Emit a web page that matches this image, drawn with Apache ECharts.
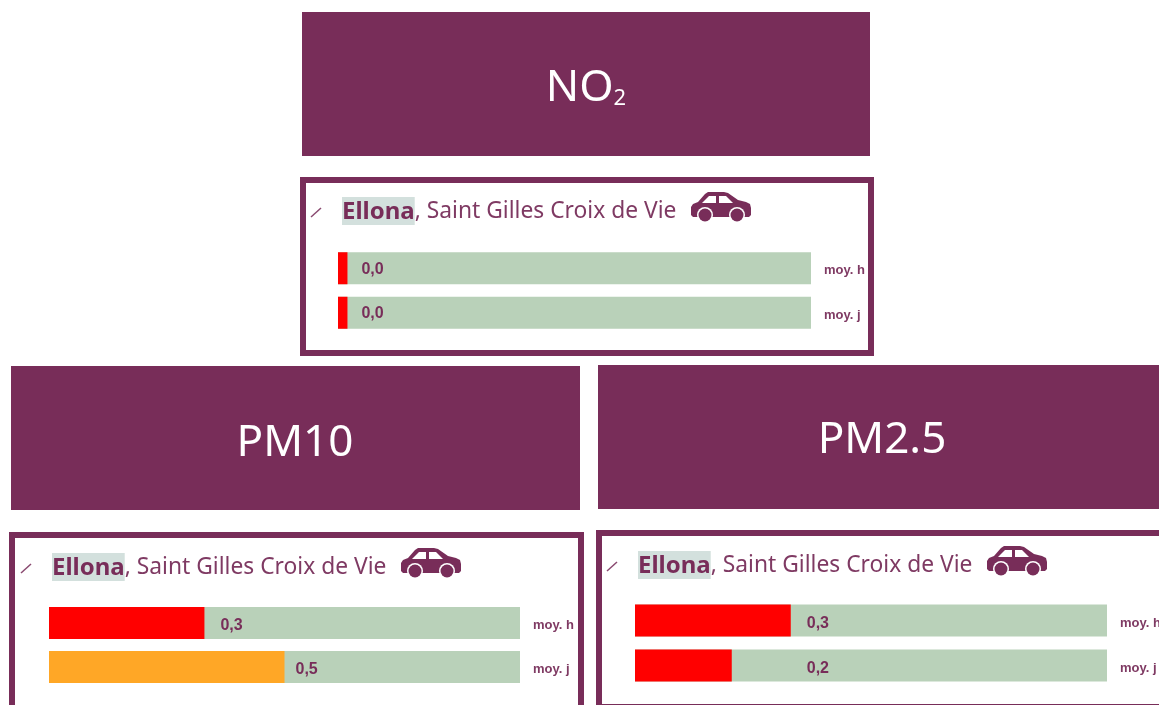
<!DOCTYPE html>
<html>
<head>
<meta charset="utf-8">
<style>
html,body{margin:0;padding:0;background:#fff;overflow:hidden}
#main{width:1159px;height:705px}
</style>
<script src="https://cdn.jsdelivr.net/npm/echarts@6/dist/echarts.min.js"></script>
</head>
<body>
<div id="main"></div>
<script>
// valeurs
var rowLabels = ['moy. h', 'moy. j'];
var no2Values = [0.02, 0.02];
var pm10Values = [0.33, 0.5];
var pm25Values = [0.33, 0.205];
var stationBold = 'Ellona';
var stationRest = ', Saint Gilles Croix de Vie';

var PURPLE = '#782d59';
var GREEN = '#b9d1b9';
var FONT = '"Noto Sans", sans-serif';

// placement des 3 blocs
var panels = [
	{ values: no2Values, head: [302, 12, 568, 144], frame: [300, 177, 574, 179], titleX: 342, titleY: 211, grid: [338, 246, 473, 89], dist: [14, 14], shift: 1 },
	{ values: pm10Values, head: [11, 366, 569, 144], frame: [9, 532, 575, 200], titleX: 52, titleY: 567, grid: [49, 601, 471, 88], dist: [16, 11], shift: 3 },
	{ values: pm25Values, head: [598, 365, 600, 144], frame: [596, 530, 600, 180], titleX: 638, titleY: 565, grid: [635, 598, 472, 90], dist: [16, 75], shift: 3 }
];

function car(x, y) {
	return {
		type: 'group', x: x, y: y, silent: true,
		children: [
			{ type: 'polygon', shape: { points: [[0, 23], [0, 15], [2, 12], [7, 10], [14, 2], [17, 0], [33, 0], [37, 1], [47, 8], [55, 10], [59, 12], [60, 16], [60, 23], [58, 25], [2, 25]] }, style: { fill: PURPLE } },
			{ type: 'polygon', shape: { points: [[11, 11], [18, 4], [25, 4], [25, 11]] }, style: { fill: '#fff' } },
			{ type: 'polygon', shape: { points: [[28, 4], [35, 4], [42, 11], [28, 11]] }, style: { fill: '#fff' } },
			{ type: 'circle', shape: { cx: 14, cy: 23, r: 8 }, style: { fill: '#fff' } },
			{ type: 'circle', shape: { cx: 46, cy: 23, r: 8 }, style: { fill: '#fff' } },
			{ type: 'circle', shape: { cx: 14, cy: 23, r: 6.5 }, style: { fill: PURPLE } },
			{ type: 'circle', shape: { cx: 46, cy: 23, r: 6.5 }, style: { fill: PURPLE } }
		]
	};
}

var graphics = [];
var grids = [], xAxes = [], yAxes = [], series = [];
var headTexts = ['{a|NO}{b|2}', '{a|PM10}', '{a|PM2.5}'];
var headCx = [586, 295, 882];
var headCy = [80, 435, 432];

panels.forEach(function (p, i) {
	// bandeau
	graphics.push({ type: 'rect', silent: true, shape: { x: p.head[0], y: p.head[1], width: p.head[2], height: p.head[3] }, style: { fill: PURPLE } });
	graphics.push({
		type: 'text', silent: true, x: headCx[i], y: headCy[i],
		style: {
			text: headTexts[i], align: 'center', verticalAlign: 'middle',
			rich: {
				a: { fontFamily: FONT, fontSize: 44, fill: '#fff', lineHeight: 60, verticalAlign: 'bottom' },
				b: { fontFamily: FONT, fontSize: 22, fill: '#fff', lineHeight: 50, verticalAlign: 'bottom' }
			}
		}
	});
	// cadre
	graphics.push({ type: 'rect', silent: true, shape: { x: p.frame[0] + 3, y: p.frame[1] + 3, width: p.frame[2] - 6, height: p.frame[3] - 6 }, style: { fill: '#fff', stroke: PURPLE, lineWidth: 6 } });
	// titre
	graphics.push({
		type: 'text', silent: true, x: p.titleX, y: p.titleY,
		style: {
			text: '{b|' + stationBold + '}{r|' + stationRest + '}', verticalAlign: 'middle',
			rich: {
				b: { fontFamily: FONT, fontWeight: 'bold', fontSize: 24, fill: PURPLE, backgroundColor: '#d3e0dd', lineHeight: 29, padding: [3, 0, 1, 0] },
				r: { fontFamily: FONT, fontSize: 22.8, fill: '#7f3a63', lineHeight: 29, padding: [3, 0, 1, 0] }
			}
		}
	});
	graphics.push({ type: 'line', silent: true, shape: { x1: p.titleX - 31, y1: p.titleY + 6, x2: p.titleX - 21, y2: p.titleY - 3 }, style: { stroke: '#8a4a70', lineWidth: 1.5 } });
	graphics.push(car(p.titleX + 349, p.titleY - 19));

	grids.push({ left: p.grid[0], top: p.grid[1], width: p.grid[2], height: p.grid[3], outerBoundsMode: 'none' });
	xAxes.push({ gridIndex: i, type: 'value', min: 0, max: 1, show: false });
	yAxes.push({
		gridIndex: i, type: 'category', inverse: true, position: 'right', data: rowLabels,
		axisLine: { show: false }, axisTick: { show: false },
		axisLabel: { margin: 13, color: '#7f3a63', fontFamily: '"Liberation Sans", Arial, sans-serif', fontWeight: 'bold', fontSize: 13, verticalAlign: 'top', lineHeight: 5 }
	});
	series.push({
		type: 'bar', xAxisIndex: i, yAxisIndex: i, barWidth: 32, silent: true, animation: false,
		showBackground: true, backgroundStyle: { color: GREEN },
		itemStyle: {
			color: function (d) { return d.value >= 0.4 ? '#ffa726' : '#ff0000'; }
		},
		data: p.values.map(function (v, k) {
			return { value: v, label: { distance: p.dist[k] } };
		}),
		label: {
			show: true, position: 'right', color: PURPLE, offset: [0, p.shift],
			fontFamily: '"Liberation Sans", Arial, sans-serif', fontWeight: 'bold', fontSize: 16,
			formatter: function (d) { return d.value.toFixed(1).replace('.', ','); }
		}
	});
});

var chart = echarts.init(document.getElementById('main'));
chart.setOption({
	animation: false,
	backgroundColor: '#fff',
	graphic: { elements: graphics },
	grid: grids,
	xAxis: xAxes,
	yAxis: yAxes,
	series: series
});
</script>
</body>
</html>
